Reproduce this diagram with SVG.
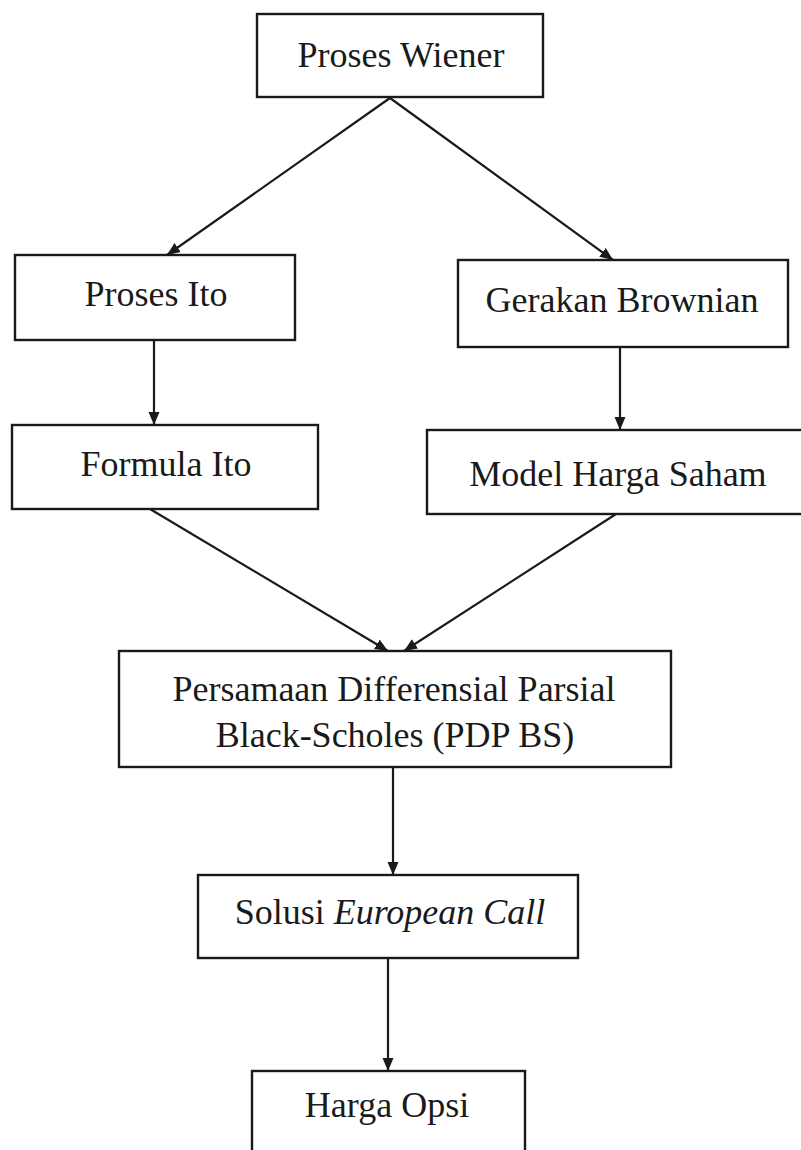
<svg xmlns="http://www.w3.org/2000/svg" width="801" height="1150" viewBox="0 0 801 1150">
<style>
.box{fill:#fff;stroke:#1a1a1a;stroke-width:2.4}
.lbl{font-family:"Liberation Serif","Times New Roman",serif;font-size:36px;fill:#1a1a1a;text-anchor:middle}
.con{stroke:#1a1a1a;stroke-width:2.2;fill:none;marker-end:url(#ah)}
</style>
<defs>
<marker id="ah" viewBox="0 0 13 12" refX="13" refY="6" markerWidth="13" markerHeight="12" markerUnits="userSpaceOnUse" orient="auto">
<path d="M0,0.5 L13,6 L0,11.5 Z" fill="#1a1a1a"/>
</marker>
</defs>
<rect width="801" height="1150" fill="#fff"/>
<g id="connectors">
<line class="con" x1="390" y1="98" x2="167" y2="255"/>
<line class="con" x1="390" y1="98" x2="613" y2="260"/>
<line class="con" x1="154" y1="340" x2="154" y2="425"/>
<line class="con" x1="620" y1="347" x2="620" y2="430"/>
<line class="con" x1="150" y1="509" x2="388" y2="651"/>
<line class="con" x1="616" y1="514" x2="404" y2="651"/>
<line class="con" x1="393" y1="767" x2="393" y2="875"/>
<line class="con" x1="388" y1="958" x2="388" y2="1071"/>
</g>
<g id="n-proses-wiener">
<rect class="box" x="257" y="14" width="286" height="83"/>
<text class="lbl" x="401" y="67">Proses Wiener</text>
</g>
<g id="n-proses-ito">
<rect class="box" x="15" y="255" width="280" height="85"/>
<text class="lbl" x="156" y="306">Proses Ito</text>
</g>
<g id="n-gerakan-brownian">
<rect class="box" x="458" y="260" width="330" height="87"/>
<text class="lbl" x="622" y="312">Gerakan Brownian</text>
</g>
<g id="n-formula-ito">
<rect class="box" x="12" y="425" width="306" height="84"/>
<text class="lbl" x="166" y="476">Formula Ito</text>
</g>
<g id="n-model-harga-saham">
<rect class="box" x="427" y="430" width="380" height="84"/>
<text class="lbl" x="618" y="486">Model Harga Saham</text>
</g>
<g id="n-pdp-bs">
<rect class="box" x="119" y="651" width="552" height="116"/>
<text class="lbl" x="394" y="701">Persamaan Differensial Parsial</text>
<text class="lbl" x="395" y="747">Black-Scholes (PDP BS)</text>
</g>
<g id="n-solusi">
<rect class="box" x="198" y="875" width="380" height="83"/>
<text class="lbl" x="390" y="924">Solusi <tspan font-style="italic">European Call</tspan></text>
</g>
<g id="n-harga-opsi">
<rect class="box" x="252" y="1071" width="273" height="90"/>
<text class="lbl" x="387" y="1117">Harga Opsi</text>
</g>
</svg>
